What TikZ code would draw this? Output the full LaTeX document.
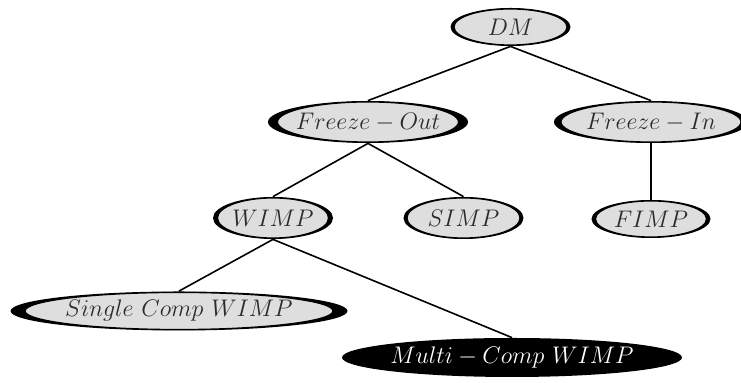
\documentclass[tikz,border=0pt]{standalone}
\usetikzlibrary{shapes.geometric}
\definecolor{nodegray}{HTML}{DEDEDE}
\definecolor{txtgray}{HTML}{2A2A2A}
\tikzset{
  blk/.style={ellipse, fill=black, draw=none, inner sep=0pt},
  gry/.style={ellipse, fill=nodegray, draw=black, line width=0.6pt, inner sep=0pt},
  lbl/.style={inner sep=0pt, text=txtgray, font=\fontsize{12}{14}\selectfont},
  wlbl/.style={inner sep=0pt, text=white, font=\fontsize{12}{14}\selectfont},
  conn/.style={line width=0.8pt, black}
}
% name, x, y, gray width(pt), black width(pt), height(pt), text
\newcommand\mknode[7]{%
  \node[blk, minimum width=#5pt, minimum height=#6pt+1pt] (#1) at (#2,#3) {};
  \node[gry, minimum width=#4pt, minimum height=#6pt] (#1-in) at (#1) {};
  \node[lbl] (#1-t) at (#1) {#7};
}
\begin{document}
\begin{tikzpicture}[x=0.5pt, y=-0.5pt]
\useasboundingbox (0,0) rectangle (741,383);
\fill[white] (0,0) rectangle (741,383);
\mknode{dm}{510.5}{27}{56.5}{60}{18}{$DM$}
\mknode{fo}{368}{122}{90.5}{100}{20}{$Freeze-Out$}
\mknode{fi}{651}{122}{90}{97}{20}{$Freeze-In$}
\mknode{wimp}{273}{218}{55.5}{60}{20}{$WIMP$}
\mknode{simp}{463.5}{218}{56.5}{60}{20}{$SIMP$}
\mknode{fimp}{651}{219}{55.5}{59.5}{18}{$FIMP$}
\mknode{single}{179}{311}{154}{168.5}{18.5}{$Single\ Comp\ WIMP$}
\node[blk, minimum width=170pt, minimum height=19.5pt] (multi) at (512,357.5) {};
\node[wlbl] (multi-t) at (multi) {$Multi-Comp\ WIMP$};
\draw[conn] (dm.south) -- (fo.north);
\draw[conn] (dm.south) -- (fi.north);
\draw[conn] (fo.south) -- (wimp.north);
\draw[conn] (fo.south) -- (simp.north);
\draw[conn] (fi.south) -- (fimp.north);
\draw[conn] (wimp.south) -- (single.north);
\draw[conn] (wimp.south) -- (multi.north);
\end{tikzpicture}
\end{document}
